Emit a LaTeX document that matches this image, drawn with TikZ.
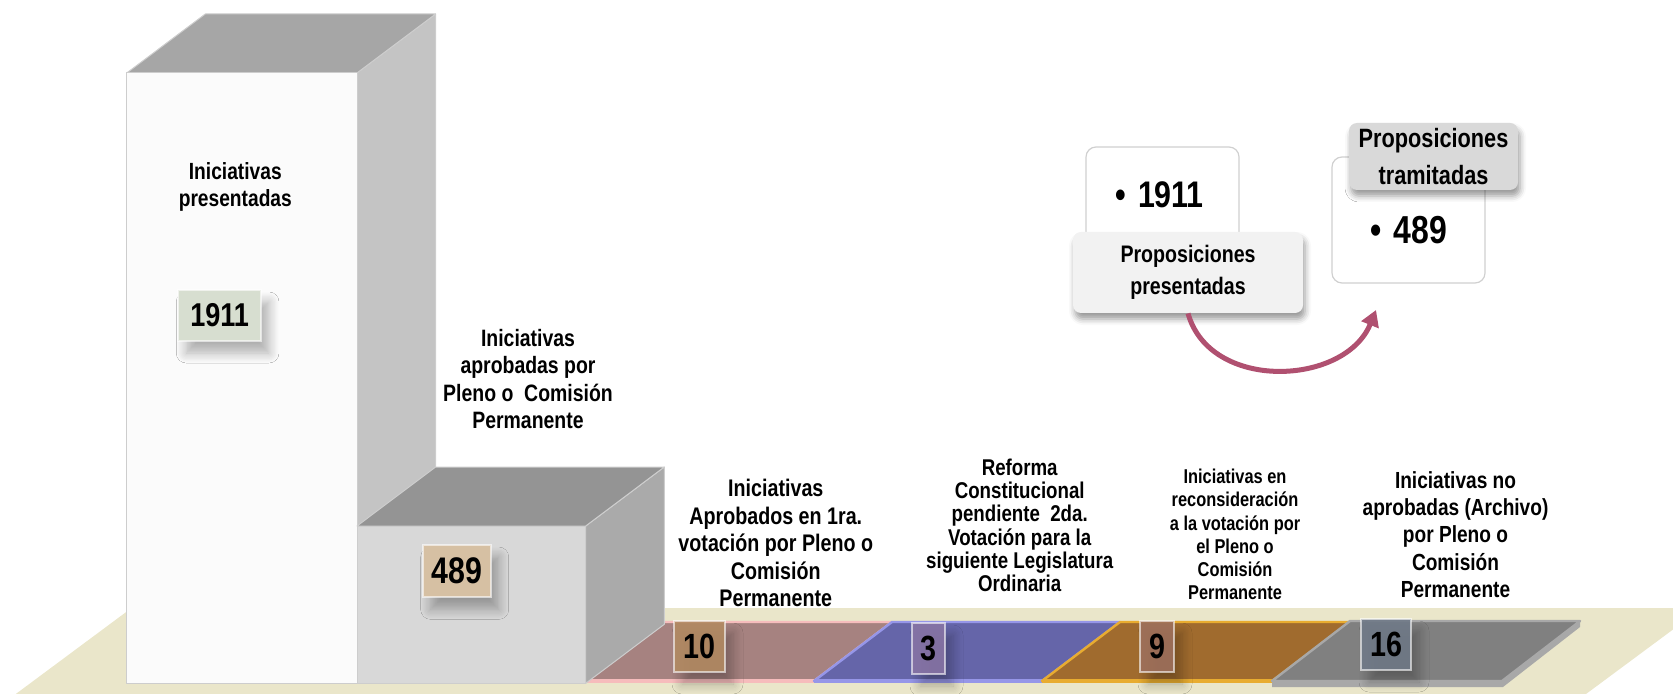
\documentclass[tikz,border=0pt]{standalone}
\usepackage{fontspec}
\newfontfamily\narrowsans[FakeStretch=0.82]{Liberation Sans}
\usetikzlibrary{shadows.blur,arrows.meta}
\newdimen\pxu \pxu=0.5pt
\newcommand\setlabfont[2]{\narrowsans\bfseries\fontsize{#1}{#2}\selectfont}
\definecolor{floorc}{RGB}{234,230,202}
\definecolor{edgec}{RGB}{205,205,205}
\definecolor{bigfront}{RGB}{251,251,251}
\definecolor{bigtop}{RGB}{166,166,166}
\definecolor{bigside}{RGB}{196,196,196}
\definecolor{smfront}{RGB}{216,216,216}
\definecolor{smtop}{RGB}{148,148,148}
\definecolor{smside}{RGB}{170,170,170}
\definecolor{stAf}{RGB}{166,130,128}
\definecolor{stAb}{RGB}{246,188,188}
\definecolor{stBf}{RGB}{101,101,169}
\definecolor{stBb}{RGB}{150,150,232}
\definecolor{stCf}{RGB}{160,107,46}
\definecolor{stCb}{RGB}{232,172,48}
\definecolor{stDf}{RGB}{128,128,128}
\definecolor{stDb}{RGB}{168,168,168}
\definecolor{nA}{RGB}{215,222,208}
\definecolor{nB}{RGB}{214,192,163}
\definecolor{nC}{RGB}{178,138,98}
\definecolor{nD}{RGB}{135,116,165}
\definecolor{nE}{RGB}{158,112,92}
\definecolor{nF}{RGB}{112,122,136}
\definecolor{lblP}{RGB}{242,242,242}
\definecolor{lblT}{RGB}{217,217,217}
\definecolor{wboxb}{RGB}{208,208,208}
\definecolor{arrc}{RGB}{176,80,112}
\tikzset{
  face/.style={draw=edgec, line width=0.5pt, line join=round},
  strip/.style={line width=1.2pt, line join=round},
  numbox/.style={draw=white, draw opacity=0.6, line width=1pt, inner sep=0pt,
    blur shadow={shadow xshift=4pt, shadow yshift=-6pt, shadow blur radius=5pt, shadow blur steps=8, shadow opacity=30},
    font=\setlabfont{17.5pt}{20pt}},
  lab/.style={align=center, inner sep=0pt, anchor=base},
  wbox/.style={draw=wboxb, fill=white, rounded corners=5pt, line width=0.6pt, inner sep=0pt},
  tagbox/.style={rounded corners=4pt, inner sep=0pt, align=center,
    blur shadow={shadow xshift=1pt, shadow yshift=-3pt, shadow blur radius=3pt, shadow opacity=40}},
  arr/.style={draw=arrc, line width=2.5pt, -{Triangle[length=8pt,width=9pt]}}
}
\begin{document}
\begin{tikzpicture}[x=0.5pt,y=-0.5pt]
\useasboundingbox (0,0) rectangle (1673,694);
\begin{scope}
\clip (0,0) rectangle (1673,694);
% floor
\fill[floorc] (15.8,694) -- (131.6,608) -- (1702,608) -- (1586,694) -- cycle;
% strips
\fill[stDb] (1272,681) -- (1502,681) -- (1580,622) -- (1580,627) -- (1503,687) -- (1272,687) -- cycle;
\filldraw[strip, fill=stAf, draw=stAb] (586,681) -- (664,622) -- (892,622) -- (814,681) -- cycle;
\draw[stAb, line width=2pt] (586,681) -- (814,681);
\filldraw[strip, fill=stBf, draw=stBb] (814,681) -- (892,622) -- (1120,622) -- (1042,681) -- cycle;
\draw[stBb, line width=2pt] (814,681) -- (1042,681);
\filldraw[strip, fill=stCf, draw=stCb] (1042,681) -- (1120,622) -- (1350,622) -- (1272,681) -- cycle;
\draw[stCb, line width=2pt] (1042,681) -- (1272,681);
\filldraw[strip, fill=stDf, draw=stDb] (1272,681) -- (1350,621) -- (1580,621) -- (1502,681) -- cycle;
% big box
\filldraw[face, fill=bigside] (357,73) -- (435.6,14) -- (435.6,624.3) -- (357,683.3) -- cycle;
\filldraw[face, fill=bigtop] (126.7,73) -- (205.3,14) -- (435.6,14) -- (357,73) -- cycle;
\filldraw[face, fill=bigfront] (126.7,73) rectangle (357,683.3);
% small box
\filldraw[face, fill=smside] (585.7,526) -- (664.3,467) -- (664.3,624.3) -- (585.7,683.3) -- cycle;
\filldraw[face, fill=smtop] (357,526) -- (435.6,467) -- (664.3,467) -- (585.7,526) -- cycle;
\filldraw[face, fill=smfront] (357,526) rectangle (585.7,683.3);
\end{scope}
% number boxes
\node[numbox, fill=nA, minimum width=82.7\pxu, minimum height=51\pxu, font=\setlabfont{16.5pt}{19pt}] (n1911) at (219.6,315.5) {1911};
\node[numbox, fill=nB, minimum width=68\pxu, minimum height=52.3\pxu, font=\setlabfont{18.5pt}{21pt}] (n489) at (456.7,571.2) {489};
\node[numbox, fill=nC, fill opacity=0.9, text opacity=1, minimum width=51\pxu, minimum height=51\pxu] (n10) at (699.5,646.5) {10};
\node[numbox, fill=nD, fill opacity=0.9, text opacity=1, minimum width=33\pxu, minimum height=51\pxu] (n3) at (928.5,648.5) {3};
\node[numbox, fill=nE, fill opacity=0.9, text opacity=1, minimum width=34\pxu, minimum height=51\pxu] (n9) at (1157,646.5) {9};
\node[numbox, fill=nF, fill opacity=0.9, text opacity=1, minimum width=50\pxu, minimum height=51\pxu] (n16) at (1386,644.5) {16};
% labels (anchor = baseline of the last line)
\node[lab, font=\setlabfont{11.7pt}{13.7pt}] (lA) at (235.3,206.7) {Iniciativas\\presentadas};
\node[lab, font=\setlabfont{11.85pt}{13.6pt}] (lB) at (528,428.3) {Iniciativas\\aprobadas por\\Pleno o \ Comisión\\Permanente};
\node[lab, font=\setlabfont{12pt}{13.75pt}] (lC) at (775.8,606.7) {Iniciativas\\Aprobados en 1ra.\\votación por Pleno o\\Comisión\\Permanente};
\node[lab, font=\setlabfont{11.4pt}{11.65pt}] (lD) at (1019.7,591.7) {Reforma\\Constitucional\\pendiente \ 2da.\\Votación para la\\siguiente Legislatura\\Ordinaria};
\node[lab, font=\setlabfont{10pt}{11.55pt}] (lE) at (1235,599.3) {Iniciativas en\\reconsideración\\a la votación por\\el Pleno o\\Comisión\\Permanente};
\node[lab, font=\setlabfont{11.65pt}{13.7pt}] (lF) at (1455.5,597.7) {Iniciativas no\\aprobadas (Archivo)\\por Pleno o\\Comisión\\Permanente};
% top-right panel
\node[wbox, minimum width=153\pxu, minimum height=153\pxu] (b1911) at (1162.5,223.5) {};
\node[anchor=base west, inner sep=0pt, font=\setlabfont{18.5pt}{21pt}] (t1911) at (1115,207.3) {•\hspace{12\pxu}1911};
\coordinate (arrEnd) at (1376,310);
\node[tagbox, fill=lblP, minimum width=230\pxu, minimum height=81\pxu, font=\setlabfont{11.95pt}{16.15pt}] (tagP) at (1188,272.5) {Proposiciones\\presentadas};
\draw[arr] (tagP.south) .. controls (1210,392) and (1345,386) .. (arrEnd);
\node[wbox, minimum width=153\pxu, minimum height=126\pxu] (b489) at (1408.5,220) {};
\node[anchor=base west, inner sep=0pt, font=\setlabfont{19.5pt}{22pt}] (t489) at (1370,244) {•\hspace{12\pxu}489};
\node[tagbox, fill=lblT, minimum width=169\pxu, minimum height=67\pxu, font=\setlabfont{13.25pt}{18.85pt}] (tagT) at (1433.5,156.5) {Proposiciones\\tramitadas};
\end{tikzpicture}
\end{document}
